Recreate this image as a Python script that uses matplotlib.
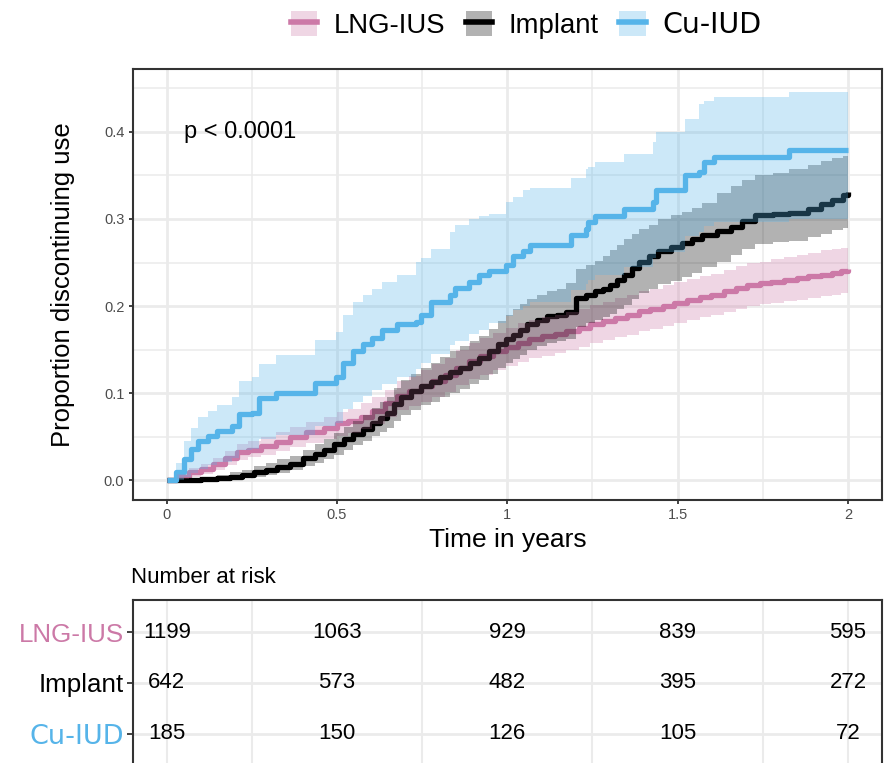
import matplotlib
matplotlib.use("Agg")
import matplotlib.pyplot as plt
from matplotlib.lines import Line2D
from matplotlib.patches import Patch

plt.rcParams['font.family'] = ['Liberation Sans', 'DejaVu Sans']

groups = ["LNG-IUS", "Implant", "Cu-IUD"]
colors = ["#CC79A7", "#000000", "#56B4E9"]

# LNG-IUS: time, estimate, lower, upper
lng_t = [0, 0.030, 0.064, 0.100, 0.135, 0.170, 0.206, 0.240, 0.277, 0.320, 0.362, 0.410,
         0.462, 0.500, 0.533, 0.570, 0.604, 0.640, 0.675, 0.710, 0.746, 0.780, 0.817, 0.850,
         0.888, 0.920, 0.959, 0.995, 1.031, 1.065, 1.102, 1.140, 1.173, 1.210, 1.244, 1.280,
         1.315, 1.350, 1.386, 1.420, 1.457, 1.490, 1.528, 1.565, 1.599, 1.635, 1.670, 1.705,
         1.741, 1.775, 1.812, 1.850, 1.883, 1.920, 1.954, 1.980, 2.000]
lng_est = [0, 0.004, 0.009, 0.013, 0.018, 0.025, 0.032, 0.035, 0.039, 0.044, 0.049, 0.055,
           0.060, 0.065, 0.068, 0.073, 0.079, 0.088, 0.097, 0.102, 0.108, 0.114, 0.121, 0.129,
           0.137, 0.142, 0.148, 0.153, 0.158, 0.162, 0.165, 0.168, 0.171, 0.175, 0.179, 0.183,
           0.186, 0.190, 0.194, 0.197, 0.200, 0.204, 0.207, 0.210, 0.213, 0.217, 0.221, 0.224,
           0.226, 0.228, 0.230, 0.232, 0.234, 0.236, 0.238, 0.240, 0.242]
lng_lo = [0, 0.001, 0.004, 0.007, 0.011, 0.017, 0.023, 0.026, 0.029, 0.033, 0.038, 0.043,
          0.047, 0.051, 0.054, 0.059, 0.064, 0.072, 0.080, 0.085, 0.090, 0.095, 0.101, 0.109,
          0.116, 0.121, 0.126, 0.131, 0.136, 0.140, 0.143, 0.146, 0.149, 0.153, 0.157, 0.161,
          0.164, 0.167, 0.171, 0.174, 0.177, 0.181, 0.184, 0.187, 0.190, 0.193, 0.197, 0.200,
          0.202, 0.204, 0.206, 0.207, 0.209, 0.211, 0.213, 0.215, 0.216]
lng_hi = [0, 0.007, 0.014, 0.019, 0.025, 0.033, 0.041, 0.045, 0.049, 0.055, 0.061, 0.067,
          0.073, 0.078, 0.082, 0.088, 0.095, 0.104, 0.114, 0.119, 0.126, 0.133, 0.140, 0.149,
          0.157, 0.163, 0.169, 0.175, 0.180, 0.184, 0.187, 0.190, 0.193, 0.197, 0.201, 0.205,
          0.209, 0.213, 0.217, 0.220, 0.224, 0.228, 0.231, 0.234, 0.237, 0.241, 0.246, 0.249,
          0.251, 0.254, 0.256, 0.259, 0.261, 0.264, 0.266, 0.267, 0.268]

# Implant
imp_t = [0, 0.050, 0.100, 0.149, 0.185, 0.220, 0.255, 0.291, 0.325, 0.362, 0.400, 0.434,
         0.462, 0.490, 0.520, 0.547, 0.575, 0.604, 0.625, 0.647, 0.668, 0.689, 0.718, 0.746,
         0.775, 0.803, 0.832, 0.860, 0.889, 0.917, 0.945, 0.974, 0.995, 1.016, 1.038, 1.059,
         1.088, 1.116, 1.145, 1.173, 1.201, 1.230, 1.258, 1.280, 1.301, 1.322, 1.343, 1.365,
         1.386, 1.415, 1.443, 1.480, 1.514, 1.542, 1.571, 1.615, 1.656, 1.690, 1.727, 1.780,
         1.827, 1.883, 1.920, 1.954, 1.985, 2.000]
imp_est = [0, 0.0005, 0.001, 0.002, 0.004, 0.006, 0.009, 0.012, 0.015, 0.019, 0.025, 0.030,
           0.035, 0.041, 0.047, 0.053, 0.059, 0.066, 0.071, 0.077, 0.087, 0.095, 0.102, 0.108,
           0.113, 0.118, 0.124, 0.129, 0.135, 0.140, 0.148, 0.156, 0.162, 0.167, 0.173, 0.179,
           0.184, 0.188, 0.190, 0.193, 0.209, 0.213, 0.217, 0.220, 0.224, 0.230, 0.236, 0.244,
           0.251, 0.257, 0.263, 0.268, 0.272, 0.277, 0.282, 0.286, 0.291, 0.298, 0.305, 0.306,
           0.307, 0.312, 0.317, 0.322, 0.328, 0.331]
imp_lo = [0, 0, 0, 0, 0.001, 0.002, 0.004, 0.006, 0.008, 0.011, 0.016, 0.020,
          0.024, 0.029, 0.034, 0.040, 0.045, 0.051, 0.055, 0.060, 0.068, 0.075, 0.081, 0.086,
          0.090, 0.095, 0.100, 0.105, 0.110, 0.115, 0.122, 0.129, 0.134, 0.139, 0.144, 0.150,
          0.154, 0.158, 0.160, 0.162, 0.176, 0.180, 0.184, 0.187, 0.191, 0.196, 0.201, 0.208,
          0.215, 0.220, 0.225, 0.229, 0.233, 0.238, 0.245, 0.251, 0.259, 0.265, 0.271, 0.273,
          0.275, 0.279, 0.283, 0.287, 0.290, 0.292]
imp_hi = [0, 0.002, 0.004, 0.006, 0.009, 0.012, 0.016, 0.020, 0.024, 0.028, 0.035, 0.041,
          0.047, 0.054, 0.061, 0.068, 0.075, 0.083, 0.090, 0.096, 0.106, 0.115, 0.122, 0.129,
          0.135, 0.141, 0.148, 0.154, 0.160, 0.166, 0.174, 0.183, 0.190, 0.196, 0.202, 0.208,
          0.213, 0.217, 0.220, 0.226, 0.243, 0.247, 0.252, 0.258, 0.264, 0.270, 0.277, 0.283,
          0.288, 0.293, 0.300, 0.305, 0.308, 0.313, 0.318, 0.330, 0.338, 0.345, 0.350, 0.353,
          0.358, 0.362, 0.367, 0.370, 0.372, 0.374]

# Cu-IUD
cu_t = [0, 0.028, 0.050, 0.071, 0.092, 0.121, 0.149, 0.192, 0.213, 0.249, 0.270, 0.320,
        0.434, 0.497, 0.519, 0.547, 0.576, 0.604, 0.633, 0.675, 0.732, 0.746, 0.775, 0.832,
        0.846, 0.888, 0.917, 0.945, 0.995, 1.016, 1.045, 1.066, 1.187, 1.230, 1.237, 1.258,
        1.343, 1.429, 1.436, 1.521, 1.564, 1.578, 1.606, 1.827, 2.000]
cu_est = [0, 0.0088, 0.024, 0.0355, 0.045, 0.051, 0.0565, 0.062, 0.0756, 0.0775, 0.0947, 0.100,
          0.112, 0.118, 0.135, 0.148, 0.156, 0.163, 0.173, 0.179, 0.182, 0.190, 0.205, 0.213,
          0.221, 0.228, 0.236, 0.240, 0.247, 0.257, 0.263, 0.270, 0.282, 0.289, 0.297, 0.303,
          0.312, 0.320, 0.333, 0.350, 0.354, 0.366, 0.371, 0.379, 0.379]
cu_lo = [0, 0.000, 0.003, 0.008, 0.013, 0.017, 0.021, 0.025, 0.034, 0.036, 0.047, 0.052,
         0.062, 0.066, 0.082, 0.090, 0.097, 0.103, 0.110, 0.118, 0.128, 0.135, 0.145, 0.155,
         0.160, 0.168, 0.172, 0.180, 0.188, 0.195, 0.200, 0.205, 0.218, 0.225, 0.230, 0.236,
         0.245, 0.255, 0.262, 0.280, 0.285, 0.292, 0.297, 0.300, 0.300]
cu_hi = [0, 0.020, 0.045, 0.060, 0.072, 0.079, 0.086, 0.095, 0.114, 0.118, 0.133, 0.144,
         0.161, 0.170, 0.190, 0.205, 0.213, 0.220, 0.228, 0.236, 0.251, 0.255, 0.266, 0.285,
         0.293, 0.300, 0.303, 0.306, 0.320, 0.325, 0.333, 0.336, 0.347, 0.358, 0.360, 0.366,
         0.375, 0.389, 0.400, 0.415, 0.432, 0.436, 0.440, 0.446, 0.446]

risk_times = [0, 0.5, 1, 1.5, 2]
risk_lng = [1199, 1063, 929, 839, 595]
risk_imp = [642, 573, 482, 395, 272]
risk_cu = [185, 150, 126, 105, 72]

x_ticks = [0, 0.5, 1, 1.5, 2]
x_labels = ["0", "0.5", "1", "1.5", "2"]
y_ticks = [0.0, 0.1, 0.2, 0.3, 0.4]

curves = [(lng_t, lng_est, lng_lo, lng_hi),
          (imp_t, imp_est, imp_lo, imp_hi),
          (cu_t, cu_est, cu_lo, cu_hi)]
risks = [risk_lng, risk_imp, risk_cu]

fig = plt.figure(figsize=(8.95, 7.63), dpi=100)
grid_c = "#EBEBEB"
frame_c = "#333333"

ax = fig.add_axes([0.1482, 0.3452, 0.8373, 0.5645])
ax.set_xlim(-0.1, 2.1)
ax.set_ylim(-0.0225, 0.4725)
for v in [0.25, 0.75, 1.25, 1.75]:
    ax.axvline(v, color=grid_c, lw=1.1, zorder=0)
for v in [0.05, 0.15, 0.25, 0.35, 0.45]:
    ax.axhline(v, color=grid_c, lw=1.1, zorder=0)
for v in x_ticks:
    ax.axvline(v, color=grid_c, lw=2.0, zorder=0)
for v in y_ticks:
    ax.axhline(v, color=grid_c, lw=2.0, zorder=0)

for (t, est, lo, hi), c in zip(curves, colors):
    ax.step(t, est, where="post", color=c, lw=3.8, zorder=2, solid_capstyle="butt")
for (t, est, lo, hi), c in zip(curves, colors):
    ax.fill_between(t, lo, hi, step="post", color=c, alpha=0.3, lw=0, zorder=3)

ax.set_xticks(x_ticks)
ax.set_xticklabels(x_labels)
ax.set_yticks(y_ticks)
ax.set_yticklabels([f"{v:.1f}" for v in y_ticks])
ax.tick_params(length=3, width=1.3, color=frame_c, labelcolor="#4D4D4D", labelsize=10.5, pad=3)
for s in ax.spines.values():
    s.set_color(frame_c)
    s.set_linewidth(1.5)
ax.set_xlabel("Time in years", fontsize=19, labelpad=4)
ax.set_ylabel("Proportion discontinuing use", fontsize=18.5, labelpad=21)
ax.text(0.05, 0.40, "p < 0.0001", fontsize=17, ha="left", va="center")

handles = [(Patch(facecolor=c, alpha=0.3, edgecolor="none"), Line2D([], [], color=c, lw=4))
           for c in colors]
leg = fig.legend(handles, groups, loc="center", bbox_to_anchor=(0.588, 0.967), ncol=3,
                 frameon=False, fontsize=19.8, handlelength=0.95, handleheight=1.0,
                 handletextpad=0.6, columnspacing=0.75, borderpad=0)
leg.get_texts()[2].set_family("DejaVu Sans")
leg.get_texts()[2].set_fontsize(20.5)

# risk table
tb = fig.add_axes([0.1482, -0.0026, 0.8373, 0.2163])
tb.set_xlim(-0.1, 2.1)
tb.set_ylim(0.39, 3.63)
for v in [0, 0.25, 0.75, 1.25, 1.75, 2]:
    tb.axvline(v, color=grid_c, lw=1.5, zorder=0)
rows = [3, 2, 1]
for r in rows:
    tb.axhline(r, color=grid_c, lw=2.0, zorder=0)
for r, vals in zip(rows, risks):
    for t, n in zip(risk_times, vals):
        tb.text(t, r, str(n), fontsize=16, ha="center", va="center")
tb.set_xticks([])
tb.set_yticks(rows)
tb.set_yticklabels(groups)
tb.tick_params(axis="y", length=4, width=1.3, color=frame_c, labelsize=18.7, pad=2)
for lab, c in zip(tb.get_yticklabels(), colors):
    lab.set_color(c)
tb.get_yticklabels()[2].set_family("DejaVu Sans")
tb.get_yticklabels()[2].set_fontsize(19.5)
for s in tb.spines.values():
    s.set_color(frame_c)
    s.set_linewidth(1.5)
fig.text(0.1464, 0.2425, "Number at risk", fontsize=16, ha="left", va="center")

fig.savefig("out.png", dpi=100)
